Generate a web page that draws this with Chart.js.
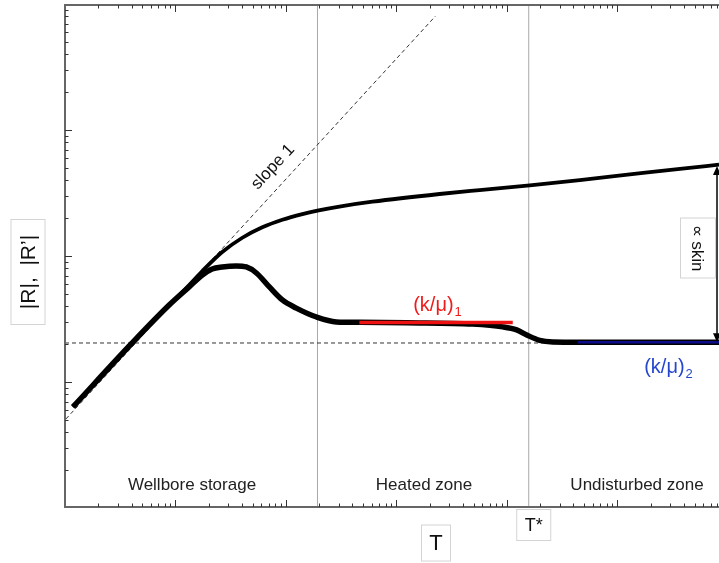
<!DOCTYPE html>
<html>
<head>
<meta charset="utf-8">
<title>Derivative schematic</title>
<script src="https://cdn.jsdelivr.net/npm/chart.js@4.4.1/dist/chart.umd.min.js"></script>
<style>
  body { margin: 0; background: #fff; }
  #wrap { width: 719px; height: 563px; position: relative; }
</style>
</head>
<body>
<div id="wrap"><canvas id="plot"></canvas></div>
<script>
// Values (log-log schematic, no tick labels)
const T_MIN = 1;
const T_MAX = 831800;
const R_MIN = 1;
const R_MAX = 10000;

// |R'| derivative curve (thick)
const lowerT = [1.18, 4.05, 8.77, 13.3, 17.5, 21.5, 26.5, 35.5, 43.8, 54, 70.8, 92.7, 124, 189, 286, 462, 1236, 4898, 9162, 12270, 15140, 19820, 26000, 45710, 831800];
const lowerR = [6.34, 20.4, 40.8, 56.8, 70.6, 78.9, 81.8, 83.4, 81.8, 73.3, 56.8, 44.8, 38.6, 32.8, 30.0, 29.8, 29.5, 28.8, 27.4, 25.9, 23.6, 21.4, 20.8, 20.7, 20.7];

// |R| curve
const upperT = [1.18, 4.05, 8.77, 13.3, 17.5, 26.5, 40.3, 61.1, 92.7, 141, 193, 324, 607, 2460, 5662, 16110, 45710, 129700, 369000, 831800];
const upperR = [6.34, 20.4, 40.8, 58.9, 76.0, 107.6, 139.6, 169.0, 194.1, 215.3, 229.1, 248.9, 269.8, 310.5, 333.4, 363.1, 399.9, 443.6, 492.0, 530.9];

// slope 1 guide
const slopeT = [1.02, 2262];
const slopeR = [5.09, 8035];

// stabilisation level of the derivative
const flatR = 20.4;

// zone boundaries
const heatedEdgeT = 193;
const tStar = 15770;

// (k/mu)_1 and (k/mu)_2 plateaus
const red1T = [462, 11300];
const red1R = [29.6, 29.6];
const blue2T = [43850, 831800];
const blue2R = [20.7, 20.7];

// skin arrow position
const skinT = 798000;
const skinTop = 517.6;
const skinBottom = 20.7;

const FONT = '"Liberation Sans", Arial, sans-serif';

function pairs(xs, ys) {
  return xs.map((x, i) => ({ x: x, y: ys[i] }));
}

function line(data, color, width, order, extra) {
  return Object.assign({
    data: data,
    borderColor: color,
    borderWidth: width,
    pointRadius: 0,
    fill: false,
    tension: 0,
    order: order,
  }, extra || {});
}

function drawSubLabel(ctx, main, sub, cx, cy, color) {
  ctx.fillStyle = color;
  ctx.font = "20px " + FONT;
  const w1 = ctx.measureText(main).width;
  ctx.font = "13px " + FONT;
  const w2 = ctx.measureText(sub).width;
  const x0 = cx - (w1 + w2) / 2;
  ctx.textAlign = "left";
  ctx.textBaseline = "middle";
  ctx.font = "20px " + FONT;
  ctx.fillText(main, x0, cy);
  ctx.font = "13px " + FONT;
  ctx.fillText(sub, x0 + w1 + 1, cy + 7);
}

function boxText(ctx, text, cx, cy, w, h, rot, font, boxed) {
  ctx.save();
  ctx.translate(cx, cy);
  ctx.rotate(rot);
  if (boxed) {
    ctx.fillStyle = "#fff";
    ctx.fillRect(-w / 2, -h / 2, w, h);
    ctx.strokeStyle = "#d4d4d4";
    ctx.lineWidth = 1;
    ctx.strokeRect(-w / 2 + 0.5, -h / 2 + 0.5, w - 1, h - 1);
  }
  ctx.fillStyle = "#111";
  ctx.font = font;
  ctx.textAlign = "center";
  ctx.textBaseline = "middle";
  ctx.fillText(text, 0, 1);
  ctx.restore();
}

const decorations = {
  id: "decorations",
  afterDatasetsDraw(chart) {
    const ctx = chart.ctx;
    const xs = chart.scales.x;
    const ys = chart.scales.y;
    const a = chart.chartArea;

    ctx.save();
    // axis frame (left, bottom, top)
    ctx.strokeStyle = "#666";
    ctx.lineWidth = 2;
    ctx.beginPath();
    ctx.moveTo(a.right, a.top + 1);
    ctx.lineTo(a.left, a.top + 1);
    ctx.lineTo(a.left, a.bottom - 1);
    ctx.lineTo(a.right, a.bottom - 1);
    ctx.stroke();

    // inward ticks
    ctx.strokeStyle = "#333";
    ctx.lineWidth = 1;
    ctx.beginPath();
    for (let e = 0; e < 7; e++) {
      for (let s = 1; s < 10; s++) {
        const v = s * Math.pow(10, e);
        const len = s === 1 ? 7 : 3.5;
        if (v > T_MIN && v <= T_MAX) {
          const px = Math.round(xs.getPixelForValue(v)) + 0.5;
          ctx.moveTo(px, a.bottom - 1);
          ctx.lineTo(px, a.bottom - 1 - len);
          ctx.moveTo(px, a.top + 1);
          ctx.lineTo(px, a.top + 1 + len);
        }
        if (v > R_MIN && v < R_MAX) {
          const py = Math.round(ys.getPixelForValue(v)) + 0.5;
          ctx.moveTo(a.left, py);
          ctx.lineTo(a.left + len, py);
        }
      }
    }
    ctx.stroke();

    // zone names
    ctx.fillStyle = "#222";
    ctx.font = "17px " + FONT;
    ctx.textAlign = "center";
    ctx.textBaseline = "alphabetic";
    ctx.fillText("Wellbore storage", 192, 490);
    ctx.fillText("Heated zone", 424, 490);
    ctx.fillText("Undisturbed zone", 637, 490);

    // slope 1
    ctx.save();
    ctx.translate(273, 167);
    ctx.rotate(-47 * Math.PI / 180);
    ctx.fillStyle = "#111";
    ctx.font = "17px " + FONT;
    ctx.textAlign = "center";
    ctx.textBaseline = "middle";
    ctx.fillText("slope 1", 0, 0);
    ctx.restore();

    // plateau labels
    drawSubLabel(ctx, "(k/\u03bc)", "1", 437, 305, "#ee1c1c");
    drawSubLabel(ctx, "(k/\u03bc)", "2", 668, 367, "#2547d0");

    // skin arrow
    const sx = xs.getPixelForValue(skinT);
    const sTop = ys.getPixelForValue(skinTop);
    const sBot = ys.getPixelForValue(skinBottom);
    ctx.strokeStyle = "#000";
    ctx.fillStyle = "#000";
    ctx.lineWidth = 1.5;
    ctx.beginPath();
    ctx.moveTo(sx, sTop + 4);
    ctx.lineTo(sx, sBot - 4);
    ctx.stroke();
    ctx.beginPath();
    ctx.moveTo(sx, sTop);
    ctx.lineTo(sx - 4, sTop + 9);
    ctx.lineTo(sx + 4, sTop + 9);
    ctx.closePath();
    ctx.fill();
    ctx.beginPath();
    ctx.moveTo(sx, sBot);
    ctx.lineTo(sx - 4, sBot - 9);
    ctx.lineTo(sx + 4, sBot - 9);
    ctx.closePath();
    ctx.fill();
    boxText(ctx, "\u221d skin", sx - 19, 248, 61, 36, Math.PI / 2, "17px " + FONT, true);

    // axis titles
    boxText(ctx, "|R|,  |R\u2019|", 28, 272, 106, 35, -Math.PI / 2, "21px " + FONT, true);
    boxText(ctx, "T", 436, 543, 30, 37, 0, "22px " + FONT, true);
    const tsx = xs.getPixelForValue(tStar);
    boxText(ctx, "T*", tsx + 5, 525, 35, 32, 0, "18px " + FONT, true);
    ctx.restore();
  },
};

const ctx = document.getElementById("plot");
new Chart(ctx, {
  type: "line",
  data: {
    datasets: [
      line(pairs(blue2T, blue2R), "#0c0c8a", 2.5, 0),
      line(pairs(red1T, red1R), "#ee1111", 3.5, 0),
      line(pairs(lowerT, lowerR), "#000", 5.5, 1, { cubicInterpolationMode: "monotone", borderJoinStyle: "round" }),
      line(pairs(upperT, upperR), "#000", 3.8, 2, { cubicInterpolationMode: "monotone", borderJoinStyle: "round" }),
      line(pairs(slopeT, slopeR), "#333", 1, 4, { borderDash: [4, 3] }),
      line(pairs([T_MIN, T_MAX], [flatR, flatR]), "#333", 1, 4, { borderDash: [4, 3] }),
      line(pairs([heatedEdgeT, heatedEdgeT], [R_MIN, R_MAX]), "#a8a8a8", 1, 5),
      line(pairs([tStar, tStar], [R_MIN, R_MAX]), "#a8a8a8", 1, 5),
    ],
  },
  options: {
    responsive: true,
    maintainAspectRatio: false,
    animation: false,
    layout: { padding: { left: 65, right: 0, top: 4, bottom: 55 } },
    plugins: {
      legend: { display: false },
      tooltip: { enabled: false },
    },
    scales: {
      x: { type: "logarithmic", min: T_MIN, max: T_MAX, display: false },
      y: { type: "logarithmic", min: R_MIN, max: R_MAX, display: false },
    },
  },
  plugins: [decorations],
});
</script>
</body>
</html>
